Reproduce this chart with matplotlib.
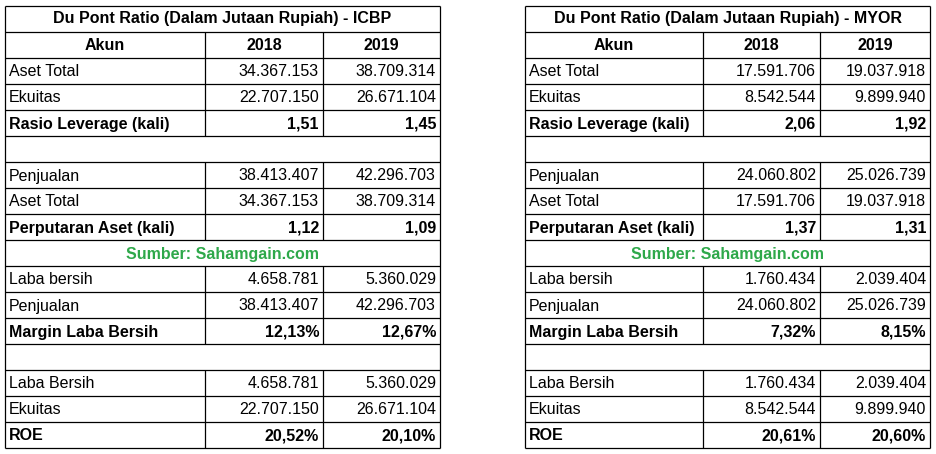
import matplotlib
matplotlib.use("Agg")
import matplotlib.pyplot as plt

# data
years = ["2018", "2019"]
row_labels = ["Aset Total", "Ekuitas", "Rasio Leverage (kali)", "",
              "Penjualan", "Aset Total", "Perputaran Aset (kali)", "Sumber: Sahamgain.com",
              "Laba bersih", "Penjualan", "Margin Laba Bersih", "",
              "Laba Bersih", "Ekuitas", "ROE"]
bold_rows = [2, 6, 10, 14]
icbp_2018 = ["34.367.153", "22.707.150", "1,51", "", "38.413.407", "34.367.153", "1,12", "",
             "4.658.781", "38.413.407", "12,13%", "", "4.658.781", "22.707.150", "20,52%"]
icbp_2019 = ["38.709.314", "26.671.104", "1,45", "", "42.296.703", "38.709.314", "1,09", "",
             "5.360.029", "42.296.703", "12,67%", "", "5.360.029", "26.671.104", "20,10%"]
myor_2018 = ["17.591.706", "8.542.544", "2,06", "", "24.060.802", "17.591.706", "1,37", "",
             "1.760.434", "24.060.802", "7,32%", "", "1.760.434", "8.542.544", "20,61%"]
myor_2019 = ["19.037.918", "9.899.940", "1,92", "", "25.026.739", "19.037.918", "1,31", "",
             "2.039.404", "25.026.739", "8,15%", "", "2.039.404", "9.899.940", "20,60%"]

FONT = "Liberation Sans"
FS = 11.5
ROW_H = 26
TOP = 6

fig = plt.figure(figsize=(9.36, 4.54), dpi=100)
ax = fig.add_axes([0, 0, 1, 1])
ax.set_xlim(0, 936)
ax.set_ylim(454, 0)
ax.axis("off")


def line(x0, y0, x1, y1):
    ax.plot([x0, x1], [y0, y1], color="black", lw=0.9, solid_capstyle="butt")


def draw_table(cols, title, v18, v19):
    x0, x1, x2, x3 = cols
    n = 2 + len(row_labels)
    bottom = TOP + n * ROW_H
    # outer border
    line(x0, TOP, x3, TOP)
    line(x0, bottom, x3, bottom)
    line(x0, TOP, x0, bottom)
    line(x3, TOP, x3, bottom)
    # title
    ax.text((x0 + x3) / 2, TOP + ROW_H / 2, title, ha="center", va="center",
            fontsize=FS, fontweight="bold", family=FONT)
    # header
    yh = TOP + ROW_H
    line(x0, yh, x3, yh)
    line(x1, yh, x1, yh + ROW_H)
    line(x2, yh, x2, yh + ROW_H)
    for txt, cx in [("Akun", (x0 + x1) / 2), (years[0], (x1 + x2) / 2), (years[1], (x2 + x3) / 2)]:
        ax.text(cx, yh + ROW_H / 2, txt, ha="center", va="center",
                fontsize=FS, fontweight="bold", family=FONT)
    for i, lab in enumerate(row_labels):
        y = TOP + (i + 2) * ROW_H
        line(x0, y, x3, y)
        cy = y + ROW_H / 2 + 1
        if lab.startswith("Sumber"):
            ax.text((x0 + x3) / 2, cy, lab, ha="center", va="center", fontsize=FS,
                    fontweight="bold", color="#2ea84a", family=FONT)
            continue
        if lab == "":
            continue
        line(x1, y, x1, y + ROW_H)
        line(x2, y, x2, y + ROW_H)
        w = "bold" if i in bold_rows else "normal"
        ax.text(x0 + 4, cy, lab, ha="left", va="center", fontsize=FS, fontweight=w, family=FONT)
        ax.text(x2 - 4, cy, v18[i], ha="right", va="center", fontsize=FS, fontweight=w, family=FONT)
        ax.text(x3 - 4, cy, v19[i], ha="right", va="center", fontsize=FS, fontweight=w, family=FONT)


draw_table((5, 205, 323, 440), "Du Pont Ratio (Dalam Jutaan Rupiah) - ICBP", icbp_2018, icbp_2019)
draw_table((525, 703, 820, 930), "Du Pont Ratio (Dalam Jutaan Rupiah) - MYOR", myor_2018, myor_2019)

fig.savefig("out.png", dpi=100, facecolor="white")
